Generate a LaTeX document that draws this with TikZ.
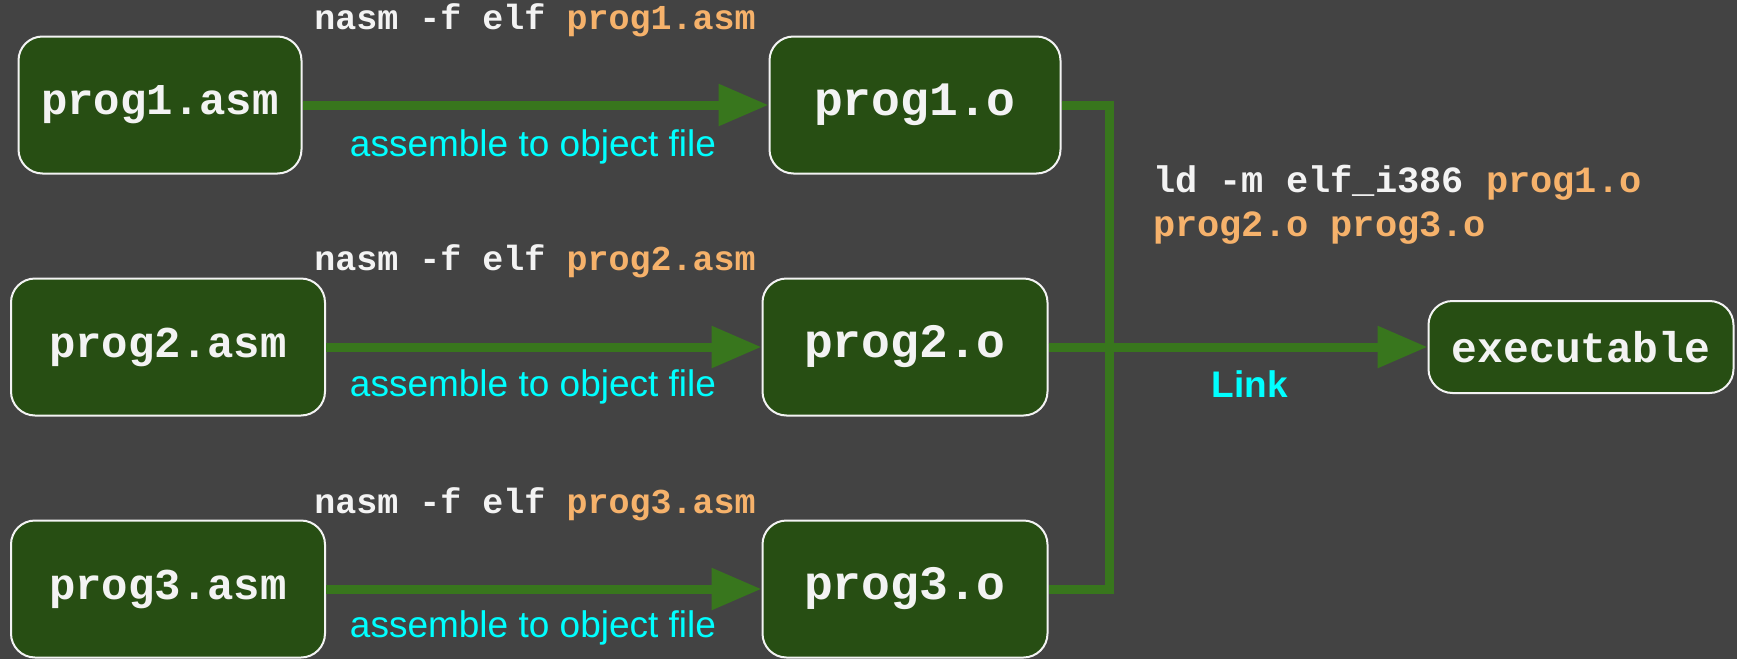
\documentclass[tikz,border=0pt]{standalone}
\usepackage{fontspec}
\setmainfont{Liberation Sans}
\newfontfamily\codefont{Liberation Mono}
\usetikzlibrary{arrows.meta}
\definecolor{bgGray}{RGB}{67,67,67}
\definecolor{boxGreen}{RGB}{39,78,19}
\definecolor{lineGreen}{RGB}{56,118,29}
\definecolor{fileOrange}{RGB}{246,178,107}
\definecolor{textWhite}{RGB}{243,243,243}
\definecolor{noteCyan}{RGB}{0,255,255}
\tikzset{
  file/.style={draw=textWhite, line width=1pt, fill=boxGreen, rounded corners=12pt,
    text=textWhite, inner sep=0pt, minimum height=68.5pt,
    font=\codefont\bfseries\fontsize{22}{26}\selectfont},
  objfile/.style={file, font=\codefont\bfseries\fontsize{24}{28}\selectfont},
  flow/.style={draw=lineGreen, line width=4.5pt, -{Triangle[length=25pt,width=20pt]}},
  bus/.style={draw=lineGreen, line width=4.5pt},
  cmd/.style={text=textWhite, font=\codefont\bfseries\fontsize{17.5}{22}\selectfont},
  note/.style={text=noteCyan, font=\fontsize{18.5}{22}\selectfont},
}
\begin{document}
\begin{tikzpicture}[x=0.5pt,y=-0.5pt]
  \fill[bgGray] (0,0) rectangle (1737,659);
  \useasboundingbox (0,0) rectangle (1737,659);
  % source files
  \node[file, minimum width=141.5pt] (asm1) at (160,105) {prog1.asm};
  \node[file, minimum width=157pt] (asm2) at (168,347) {prog2.asm};
  \node[file, minimum width=157pt] (asm3) at (168,589) {prog3.asm};
  % object files
  \node[objfile, minimum width=145.5pt] (obj1) at (915,105) {prog1.o};
  \node[objfile, minimum width=142.5pt] (obj2) at (905,347) {prog2.o};
  \node[objfile, minimum width=142.5pt] (obj3) at (905,589) {prog3.o};
  % result
  \node[file, minimum width=152.5pt, minimum height=46pt, font=\codefont\bfseries\fontsize{21.5}{26}\selectfont] (exe) at (1581,347) {executable};
  % assemble steps
  \draw[flow] (asm1) -- (obj1);
  \draw[flow] (asm2) -- (obj2);
  \draw[flow] (asm3) -- (obj3);
  \node[cmd] (nasm1) at (535,20) {nasm -f elf \textcolor{fileOrange}{prog1.asm}};
  \node[cmd] (nasm2) at (535,261) {nasm -f elf \textcolor{fileOrange}{prog2.asm}};
  \node[cmd] (nasm3) at (535,504) {nasm -f elf \textcolor{fileOrange}{prog3.asm}};
  \node[note] (asmnote1) at (533,147) {assemble to object file};
  \node[note] (asmnote2) at (533,387) {assemble to object file};
  \node[note] (asmnote3) at (533,628) {assemble to object file};
  % link step
  \coordinate (bustop) at (1109,105);
  \coordinate (busbot) at (1109,589);
  \draw[bus] (obj1.east) -- (bustop) -- (busbot) -- (obj3.east);
  \draw[flow] (obj2) -- (exe);
  \node[cmd, anchor=west, align=left, font=\codefont\bfseries\fontsize{18.5}{22}\selectfont] (ldcmd) at (1146,205)
    {ld -m elf\_i386 \textcolor{fileOrange}{prog1.o}\\\textcolor{fileOrange}{prog2.o prog3.o}};
  \node[note, font=\bfseries\fontsize{18.5}{22}\selectfont] (link) at (1250,384) {Link};
\end{tikzpicture}
\end{document}
